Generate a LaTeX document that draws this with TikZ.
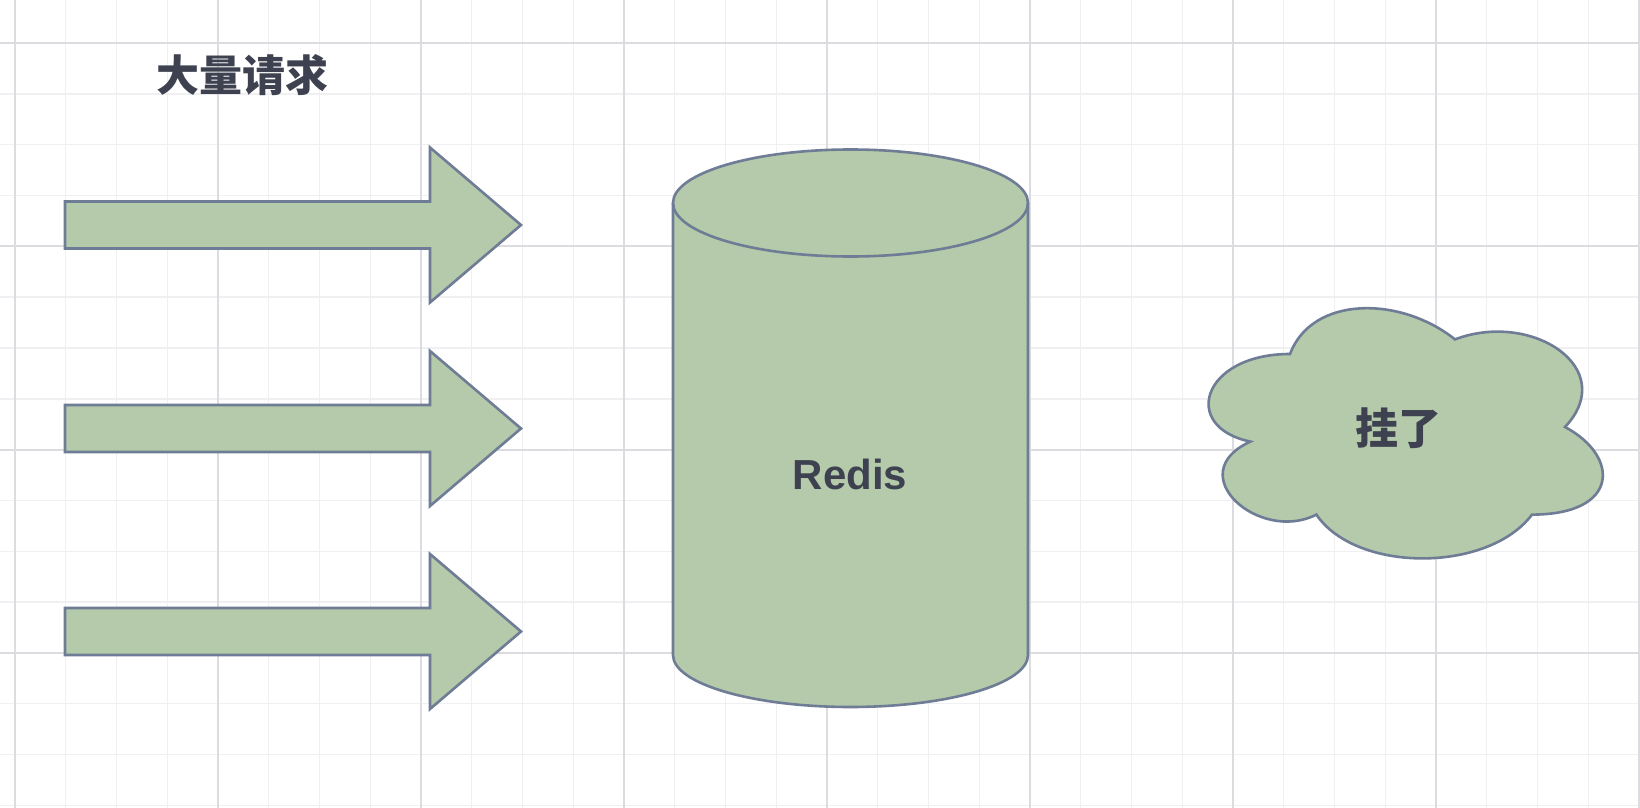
\documentclass[tikz,border=0pt]{standalone}
\usepackage{fontspec}
\setmainfont{Liberation Sans}
\newfontfamily\cjk{Noto Sans CJK SC}
\definecolor{gfill}{HTML}{B4CAAA}
\definecolor{gline}{HTML}{6F7C96}
\definecolor{txt}{HTML}{3E4250}
\definecolor{gridmaj}{HTML}{DCDCE0}
\definecolor{gridmin}{HTML}{F0F0F2}
\begin{document}
\begin{tikzpicture}[x=0.5pt,y=-0.5pt,
  shapestyle/.style={fill=gfill,draw=gline,line width=1.3pt,line join=miter},
  minorline/.style={draw=gridmin,line width=0.7pt},
  majorline/.style={draw=gridmaj,line width=1pt},
  label/.style={text=txt,font=\fontsize{21}{25}\selectfont\bfseries,inner sep=0pt},
  cjklabel/.style={text=txt,font=\fontsize{21.5}{25}\selectfont\cjk\bfseries,inner sep=0pt}]
\useasboundingbox (0,0) rectangle (1640,808);
\fill[white] (0,0) rectangle (1640,808);
% grid
\foreach \i in {-1,...,32} \draw[minorline] ({15+50.75*\i},0) -- ({15+50.75*\i},808);
\foreach \j in {-1,...,15} \draw[minorline] (0,{43+50.83*\j}) -- (1640,{43+50.83*\j});
\foreach \i in {0,...,8} \draw[majorline] ({15+203*\i},0) -- ({15+203*\i},808);
\foreach \j in {0,...,3} \draw[majorline] (0,{43+203.3*\j}) -- (1640,{43+203.3*\j});
% arrows
\foreach \c in {225,428.5,631.5}
  \filldraw[shapestyle] (65,{\c-23.5}) -- (430,{\c-23.5}) -- (430,{\c-77.5}) -- (521,\c)
     -- (430,{\c+77.5}) -- (430,{\c+23.5}) -- (65,{\c+23.5}) -- cycle;
% cylinder
\filldraw[shapestyle] (673,203) -- (673,655)
   arc[start angle=180,end angle=360,x radius=88.75pt,y radius=26pt]
   -- (1028,203)
   arc[start angle=0,end angle=180,x radius=88.75pt,y radius=26.75pt] -- cycle;
\draw[shapestyle,fill=none] (673,203) arc[start angle=180,end angle=360,x radius=88.75pt,y radius=26.75pt];
% cloud
\filldraw[shapestyle] (1290,354)
  .. controls (1202,354) and (1180,427) .. (1250.4,441.6)
  .. controls (1180,473.7) and (1259.2,543.8) .. (1316.4,514.6)
  .. controls (1356,573) and (1488,573) .. (1532,514.6)
  .. controls (1620,514.6) and (1620,456.2) .. (1565,427)
  .. controls (1620,368.6) and (1532,310.2) .. (1455,339.4)
  .. controls (1400,295.6) and (1312,295.6) .. (1290,354) -- cycle;
% texts
\node[cjklabel] (title) at (242,75) {大量请求};
\node[label] (redis) at (850,474) {Redis};
\node[cjklabel] (down) at (1398,428) {挂了};
\end{tikzpicture}
\end{document}
